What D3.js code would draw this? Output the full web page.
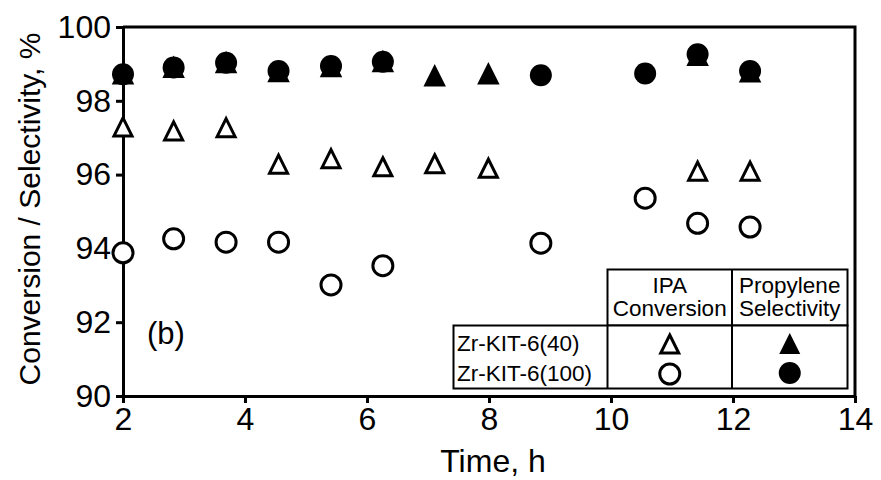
<!DOCTYPE html>
<html>
<head>
<meta charset="utf-8">
<script src="https://cdn.jsdelivr.net/npm/d3@7"></script>
<style>
  html, body { margin: 0; padding: 0; background: #fff; }
  svg { display: block; font-family: "Liberation Sans", Arial, Helvetica, sans-serif; }
</style>
</head>
<body>
<svg id="chart" width="881" height="480"></svg>
<script>
// Time on stream (h) for each catalyst
const times40 = [2, 2.83, 3.69, 4.55, 5.41, 6.26, 7.11, 7.99, 11.42, 12.28];
const times100 = [2, 2.83, 3.69, 4.55, 5.41, 6.26, 8.85, 10.56, 11.42, 12.28];

// Zr-KIT-6(40)
const conv40 = [97.32, 97.21, 97.30, 96.31, 96.46, 96.24, 96.32, 96.20, 96.12, 96.12];
const sel40 = [98.75, 98.92, 99.05, 98.81, 98.94, 99.08, 98.69, 98.75, 99.25, 98.80];

// Zr-KIT-6(100)
const conv100 = [93.88, 94.26, 94.17, 94.17, 93.01, 93.53, 94.14, 95.36, 94.68, 94.58];
const sel100 = [98.72, 98.90, 99.03, 98.81, 98.94, 99.06, 98.69, 98.74, 99.26, 98.81];

const xTicks = [2, 4, 6, 8, 10, 12, 14];
const yTicks = [90, 92, 94, 96, 98, 100];

const xTitle = "Time, h";
const yTitle = "Conversion / Selectivity, %";
const panelLabel = "(b)";
const legendHeaders = [["IPA", "Conversion"], ["Propylene", "Selectivity"]];
const legendRows = ["Zr-KIT-6(40)", "Zr-KIT-6(100)"];

const W = 881, H = 480;
const margin = { top: 27, right: 26, bottom: 84, left: 123 };
const pw = W - margin.left - margin.right;
const ph = H - margin.top - margin.bottom;

const svg = d3.select("#chart");
const g = svg.append("g").attr("transform", `translate(${margin.left},${margin.top})`);

const x = d3.scaleLinear().domain([2, 14]).range([0, pw]);
const y = d3.scaleLinear().domain([90, 100]).range([ph, 0]);

// Triangle symbol centred on its bounding box
const triBox = {
  draw(ctx, size) {
    const h = Math.sqrt(size);
    ctx.moveTo(0, -h / 2);
    ctx.lineTo(h * 0.5, h / 2);
    ctx.lineTo(-h * 0.5, h / 2);
    ctx.closePath();
  }
};
const openTri = d3.symbol().type(triBox).size(18 * 18);
const solidTri = d3.symbol().type(triBox).size(22.5 * 22.5);

// Frame (top and right edges)
g.append("path")
  .attr("d", `M0,0H${pw}V${ph}`)
  .attr("fill", "none").attr("stroke", "#000").attr("stroke-width", 3);

// Axes
const axisFont = 32;
const xAxis = g.append("g").attr("transform", `translate(0,${ph})`)
  .call(d3.axisBottom(x).tickValues(xTicks).tickFormat(d3.format("d")).tickSize(7).tickSizeOuter(0).tickPadding(4));
const yAxis = g.append("g")
  .call(d3.axisLeft(y).tickValues(yTicks).tickFormat(d3.format("d")).tickSize(7).tickSizeOuter(0).tickPadding(5));

[xAxis, yAxis].forEach(a => {
  a.select(".domain").attr("stroke", "#000").attr("stroke-width", 3);
  a.selectAll(".tick line").attr("stroke", "#000").attr("stroke-width", 3);
  a.selectAll(".tick text").attr("fill", "#000")
    .style("font-size", axisFont + "px")
    .style("font-family", '"Liberation Sans", Arial, Helvetica, sans-serif');
});

// Axis titles
svg.append("text")
  .attr("x", margin.left + pw / 2 + 4).attr("y", 472)
  .attr("text-anchor", "middle").style("font-size", "32px").text(xTitle);
svg.append("text")
  .attr("transform", `translate(40,209) rotate(-90)`)
  .attr("text-anchor", "middle").style("font-size", "30px").text(yTitle);

// Panel label
g.append("text").attr("x", 24).attr("y", 344 - margin.top)
  .style("font-size", "31px").text(panelLabel);

// Selectivity: solid triangles under solid circles
const marks = g.append("g");
marks.selectAll(".s40").data(times40.map((t, i) => [t, sel40[i]])).join("path")
  .attr("class", "s40")
  .attr("transform", d => `translate(${x(d[0])},${y(d[1])})`)
  .attr("d", solidTri).attr("fill", "#000");
marks.selectAll(".s100").data(times100.map((t, i) => [t, sel100[i]])).join("circle")
  .attr("class", "s100")
  .attr("cx", d => x(d[0])).attr("cy", d => y(d[1])).attr("r", 11)
  .attr("fill", "#000");

// Conversion: open triangles and open circles
marks.selectAll(".c40").data(times40.map((t, i) => [t, conv40[i]])).join("path")
  .attr("class", "c40")
  .attr("transform", d => `translate(${x(d[0])},${y(d[1]) + 1})`)
  .attr("d", openTri).attr("fill", "#fff").attr("stroke", "#000")
  .attr("stroke-width", 3).attr("stroke-linejoin", "miter");
marks.selectAll(".c100").data(times100.map((t, i) => [t, conv100[i]])).join("circle")
  .attr("class", "c100")
  .attr("cx", d => x(d[0])).attr("cy", d => y(d[1])).attr("r", 10)
  .attr("fill", "#fff").attr("stroke", "#000").attr("stroke-width", 3);

// Legend table
const lg = svg.append("g");
const colX = [453.5, 607.5, 732, 847.5];
const rowY = [269.5, 325.5, 388.5];
const lineAttr = s => s.attr("fill", "#fff").attr("stroke", "#000").attr("stroke-width", 2);
lg.append("rect").attr("x", colX[1]).attr("y", rowY[0]).attr("width", colX[3] - colX[1]).attr("height", rowY[1] - rowY[0]).call(lineAttr);
lg.append("rect").attr("x", colX[0]).attr("y", rowY[1]).attr("width", colX[3] - colX[0]).attr("height", rowY[2] - rowY[1]).call(lineAttr);
lg.append("line").attr("x1", colX[1]).attr("x2", colX[1]).attr("y1", rowY[1]).attr("y2", rowY[2]).attr("stroke", "#000").attr("stroke-width", 2);
lg.append("line").attr("x1", colX[2]).attr("x2", colX[2]).attr("y1", rowY[0]).attr("y2", rowY[2]).attr("stroke", "#000").attr("stroke-width", 2);

const lgFont = "22.5px";
legendHeaders.forEach((lines, i) => {
  const cx = (colX[i + 1] + colX[i + 2]) / 2;
  lines.forEach((txt, j) => {
    lg.append("text").attr("x", cx).attr("y", 293 + j * 23)
      .attr("text-anchor", "middle").style("font-size", lgFont).text(txt);
  });
});
legendRows.forEach((txt, j) => {
  lg.append("text").attr("x", 457).attr("y", 351 + j * 29.5)
    .style("font-size", lgFont).text(txt);
});

const c1 = (colX[1] + colX[2]) / 2, c2 = (colX[2] + colX[3]) / 2;
lg.append("path").attr("transform", `translate(${c1},${344})`).attr("d", openTri)
  .attr("fill", "#fff").attr("stroke", "#000").attr("stroke-width", 3);
lg.append("circle").attr("cx", c1).attr("cy", 374).attr("r", 10)
  .attr("fill", "#fff").attr("stroke", "#000").attr("stroke-width", 3);
lg.append("path").attr("transform", `translate(${c2},${343.5})`).attr("d", d3.symbol().type(triBox).size(21 * 21))
  .attr("fill", "#000");
lg.append("circle").attr("cx", c2).attr("cy", 373).attr("r", 11).attr("fill", "#000");
</script>
</body>
</html>
